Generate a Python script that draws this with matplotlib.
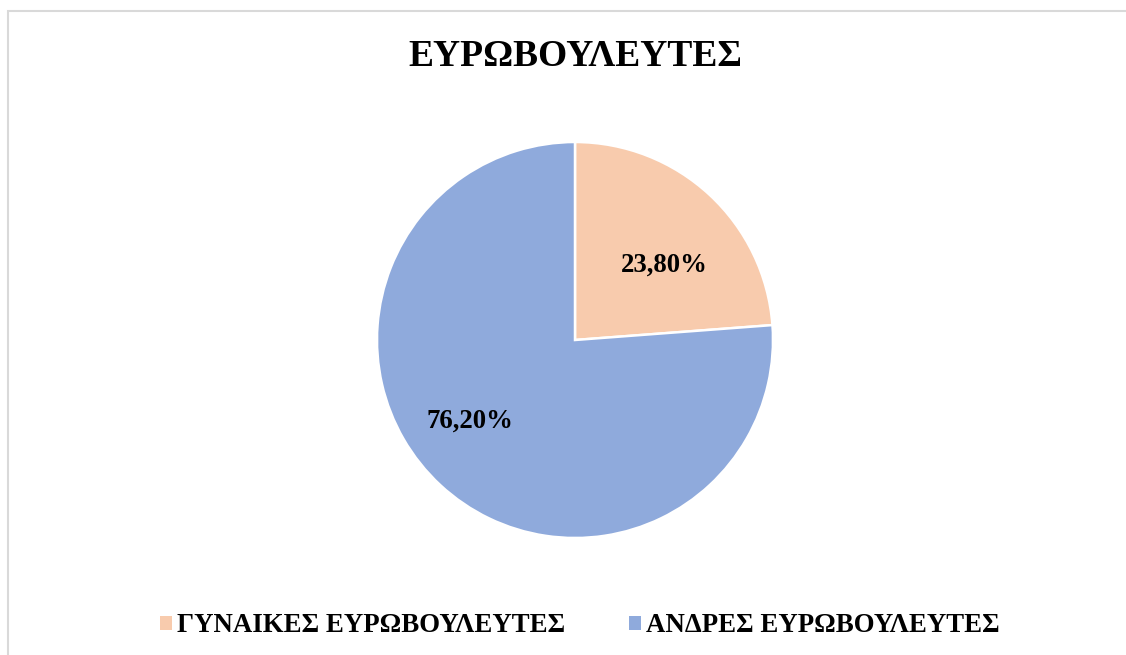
import matplotlib
matplotlib.use("Agg")
import matplotlib.pyplot as plt
from matplotlib.patches import Rectangle

categories = ["ΓΥΝΑΙΚΕΣ ΕΥΡΩΒΟΥΛΕΥΤΕΣ", "ΑΝΔΡΕΣ ΕΥΡΩΒΟΥΛΕΥΤΕΣ"]
values = [23.8, 76.2]
value_labels = ["23,80%", "76,20%"]
colors = ["#F8CBAD", "#8FAADC"]
title = "ΕΥΡΩΒΟΥΛΕΥΤΕΣ"

plt.rcParams['font.family'] = ['Liberation Serif', 'DejaVu Serif']

W, H = 1126, 655
fig = plt.figure(figsize=(W / 100, H / 100), dpi=100)
fig.patch.set_facecolor("white")

# chart border (left and top visible)
fig.patches.append(Rectangle((8 / W, -0.1), 1.2, (H - 11) / H + 0.1,
                             transform=fig.transFigure, fill=False,
                             edgecolor="#D9D9D9", linewidth=1.5))

cx, cy, r = 575, 340, 198
ax = fig.add_axes([(cx - r) / W, (H - cy - r) / H, 2 * r / W, 2 * r / H])
wedges, texts, autotexts = ax.pie(values, colors=colors, startangle=90, counterclock=False,
                                  autopct=lambda p: "", pctdistance=0.6,
                                  wedgeprops=dict(edgecolor="white", linewidth=1.8))
# label placement (best-fit style as in the original)
label_pos = [(0.45, 0.38), (-0.53, -0.41)]
for t, lab, pos in zip(autotexts, value_labels, label_pos):
    t.set_text(lab)
    t.set_position(pos)
    t.set_fontsize(19.3)
    t.set_fontweight("bold")
    t.set_color("black")
ax.set_xlim(-1, 1)
ax.set_ylim(-1, 1)
ax.set_aspect("equal")
ax.axis("off")

fig.text(575 / W, 1 - 56 / H, title, ha="center", va="center",
         fontsize=27, fontweight="bold", color="black")

leg = fig.legend(wedges, categories, loc="center", bbox_to_anchor=(580 / W, 1 - 626 / H),
                 ncol=2, frameon=False, handlelength=0.45, handleheight=0.45,
                 handletextpad=0.2, columnspacing=2.35,
                 prop=dict(size=19.4, weight="bold"))
for h in leg.legend_handles:
    h.set_edgecolor("none")

fig.savefig("out.png", dpi=100, facecolor="white")
